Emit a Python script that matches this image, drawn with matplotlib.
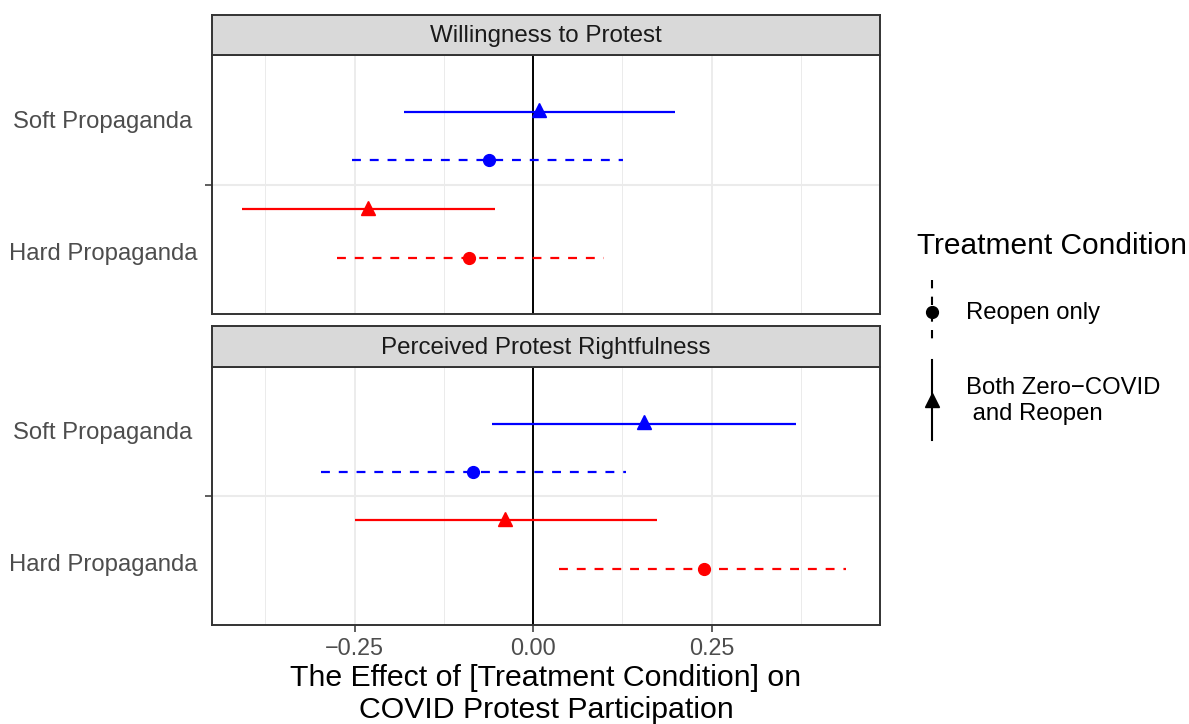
import matplotlib
matplotlib.use("Agg")
import matplotlib.pyplot as plt
from matplotlib.lines import Line2D
from matplotlib.transforms import blended_transform_factory

plt.rcParams['font.family'] = ['Liberation Sans', 'DejaVu Sans']

# ---------------- data ----------------
outcomes = ["Willingness to Protest", "Perceived Protest Rightfulness"]
propaganda = ["Soft Propaganda", "Hard Propaganda"]
conditions = ["Reopen only", "Both Zero\u2212COVID\n and Reopen"]
colors = ["#0000FF", "#FF0000"]  # soft, hard

# Willingness to Protest
will_both_est = [0.009, -0.231]
will_both_lo = [-0.181, -0.407]
will_both_hi = [0.199, -0.053]
will_reopen_est = [-0.062, -0.089]
will_reopen_lo = [-0.253, -0.274]
will_reopen_hi = [0.126, 0.099]

# Perceived Protest Rightfulness
right_both_est = [0.155, -0.039]
right_both_lo = [-0.058, -0.250]
right_both_hi = [0.369, 0.174]
right_reopen_est = [-0.084, 0.240]
right_reopen_lo = [-0.297, 0.036]
right_reopen_hi = [0.130, 0.438]

xticks = [-0.25, 0.0, 0.25]
xticklabels = ["\u22120.25", "0.00", "0.25"]
minor_xticks = [-0.375, -0.125, 0.125, 0.375]

panels = [
    (will_both_est, will_both_lo, will_both_hi, will_reopen_est, will_reopen_lo, will_reopen_hi),
    (right_both_est, right_both_lo, right_both_hi, right_reopen_est, right_reopen_lo, right_reopen_hi),
]

# ---------------- layout ----------------
W, H = 1189, 724
fig = plt.figure(figsize=(W / 100, H / 100), dpi=100)

def fbox(left, top, right, bottom):
    return [left / W, 1 - bottom / H, (right - left) / W, (bottom - top) / H]

panel_px = [(212, 55, 880, 314), (212, 367, 880, 625)]
strip_px = [(212, 15, 880, 55), (212, 326, 880, 367)]

BORDER = "#333333"
GRID = "#EBEBEB"
LW = 1.6
dash = (0, (4, 4))

for i, (est_b, lo_b, hi_b, est_r, lo_r, hi_r) in enumerate(panels):
    ax = fig.add_axes(fbox(*panel_px[i]))
    ax.set_xlim(-0.4496, 0.486)
    ax.set_ylim(5.16, -0.17)
    # grid
    for x in minor_xticks:
        ax.axvline(x, color=GRID, lw=0.7, zorder=0)
    for x in xticks:
        ax.axvline(x, color=GRID, lw=1.3, zorder=0)
    ax.axhline(2.5, color=GRID, lw=1.5, zorder=0)
    ax.axvline(0, color="black", lw=1.4, zorder=1)

    for j in range(2):
        y_both = 1 + 2 * j
        y_reo = 2 + 2 * j
        c = colors[j]
        ax.plot([lo_b[j], hi_b[j]], [y_both, y_both], color=c, lw=LW, solid_capstyle='butt', zorder=2)
        ax.plot([est_b[j]], [y_both - 0.03], marker='^', ms=10, color=c, mec=c, zorder=3)
        ax.plot([lo_r[j], hi_r[j]], [y_reo, y_reo], color=c, lw=LW, linestyle=dash, dash_capstyle='butt', zorder=2)
        ax.plot([est_r[j]], [y_reo], marker='o', ms=8.5, color=c, mec=c, zorder=3)

    ax.set_xticks(xticks)
    ax.set_yticks([2.5])
    ax.set_yticklabels([""])
    ax.tick_params(axis='both', length=5, width=1.1, color=BORDER)
    if i == 1:
        ax.set_xticklabels(xticklabels, fontsize=16.8, color="#4D4D4D")
        ax.tick_params(axis='x', pad=3.5)
    else:
        ax.set_xticklabels([])
        ax.tick_params(axis='x', length=0)
    for s in ax.spines.values():
        s.set_color(BORDER)
        s.set_linewidth(1.4)

    tr = blended_transform_factory(fig.transFigure, ax.transData)
    ax.text(103 / W, 1.2, propaganda[0], transform=tr, ha='center', va='center', fontsize=17.2, color="#4D4D4D")
    ax.text(103 / W, 3.93, propaganda[1], transform=tr, ha='center', va='center', fontsize=17.2, color="#4D4D4D")

    sax = fig.add_axes(fbox(*strip_px[i]))
    sax.set_facecolor("#D9D9D9")
    sax.set_xticks([])
    sax.set_yticks([])
    for s in sax.spines.values():
        s.set_color(BORDER)
        s.set_linewidth(1.4)
    sax.text(0.5, 0.47, outcomes[i], transform=sax.transAxes, ha='center', va='center', fontsize=17.4, color="#1A1A1A")

# x-axis title
fig.text(546 / W, 1 - 694 / H, "The Effect of [Treatment Condition] on\nCOVID Protest Participation",
         ha='center', va='center', fontsize=21.8, color="black", linespacing=1.15)

# legend (drawn in pixel coordinates on an overlay)
lax = fig.add_axes([0, 0, 1, 1])
lax.set_xlim(0, W)
lax.set_ylim(H, 0)
lax.axis('off')
lax.patch.set_alpha(0)
lax.text(917, 246, "Treatment Condition", ha='left', va='center', fontsize=21.5, color="black")
lax.add_line(Line2D([932, 932], [280, 344], color="black", lw=1.5, linestyle=dash, dash_capstyle='butt'))
lax.plot([932], [312], marker='o', ms=8.5, color="black")
lax.add_line(Line2D([932, 932], [360, 440], color="black", lw=1.5))
lax.plot([932], [400], marker='^', ms=10, color="black")
lax.text(966, 313, conditions[0], ha='left', va='center', fontsize=17.2, color="black")
lax.text(966, 401, conditions[1], ha='left', va='center', fontsize=17.2, color="black", linespacing=1.25)

fig.savefig("out.png", dpi=100)
